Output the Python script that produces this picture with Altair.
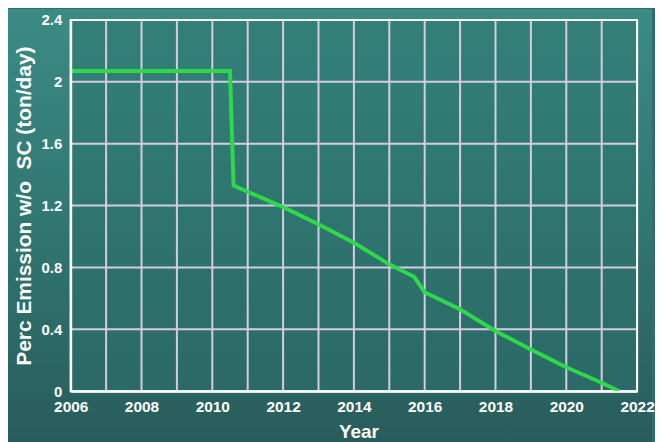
import altair as alt
import pandas as pd

years = [2006, 2010.5, 2010.6, 2012, 2013, 2014, 2015, 2015.7, 2016, 2017, 2018, 2019, 2020, 2021, 2021.5]
emission = [2.07, 2.07, 1.33, 1.19, 1.08, 0.96, 0.82, 0.74, 0.64, 0.53, 0.39, 0.27, 0.155, 0.055, 0.0]

x_ticks = list(range(2006, 2023, 2))
x_grid = list(range(2006, 2023, 1))
y_ticks = [0, 0.4, 0.8, 1.2, 1.6, 2.0, 2.4]

W, H = 569, 373

df = pd.DataFrame({"year": years, "emission": emission})
bg = pd.DataFrame({"k": [0]})

grad_bg = {
    "gradient": "linear", "x1": 0, "y1": 0, "x2": 0, "y2": 1,
    "stops": [{"offset": 0, "color": "#3b8b85"}, {"offset": 0.5, "color": "#317671"}, {"offset": 1, "color": "#285c5a"}],
}
grad_plot = {
    "gradient": "linear", "x1": 0, "y1": 0, "x2": 0, "y2": 1,
    "stops": [{"offset": 0, "color": "#338079"}, {"offset": 1, "color": "#2b6a66"}],
}

background = alt.Chart(bg).mark_rect(fill=grad_bg).encode(
    x=alt.value(-63), x2=alt.value(W + 15), y=alt.value(-11), y2=alt.value(H + 52)
)
plotbg = alt.Chart(bg).mark_rect(fill=grad_plot).encode(
    x=alt.value(0), x2=alt.value(W), y=alt.value(0), y2=alt.value(H)
)

xscale = alt.Scale(domain=[2006, 2022], nice=False, zero=False)
yscale = alt.Scale(domain=[0, 2.4], nice=False)

line = alt.Chart(df).mark_line(color="#2fd84a", strokeWidth=4).encode(
    x=alt.X("year:Q", scale=xscale,
            axis=alt.Axis(values=x_ticks, format="d", title="Year", grid=False, zindex=2,
                          labelColor="white", labelFontSize=15.5, labelFontWeight="bold",
                          labelFont="Liberation Sans", titleFont="Liberation Sans",
                          titleColor="white", titleFontSize=19, titleFontWeight="bold",
                          titleAlign="left", titleAnchor="start", titleX=269, titleY=46,
                          titleBaseline="alphabetic",
                          domainColor="white", domainWidth=2, ticks=False, labelPadding=8,
                          labelFlush=False)),
    y=alt.Y("emission:Q", scale=yscale,
            axis=alt.Axis(values=y_ticks, title="Perc Emission w/o\u00a0 SC (ton/day)", grid=False, zindex=2,
                          labelColor="white", labelFontSize=15, labelFontWeight="bold",
                          labelFont="Liberation Sans", titleFont="Liberation Sans",
                          titleColor="white", titleFontSize=21, titleFontWeight="bold",
                          domainColor="white", domainWidth=2, ticks=False, labelPadding=9,
                          titlePadding=7,
                          labelExpr="datum.value == 2 ? '2' : (datum.value == 0 ? '0' : format(datum.value, '.1f'))",
                          labelFlush=False)),
)

vgrid = alt.Chart(pd.DataFrame({"g": x_grid})).mark_rule(color="#d6cce0", strokeWidth=2).encode(
    x=alt.X("g:Q", scale=xscale)
)
hgrid = alt.Chart(pd.DataFrame({"g": y_ticks})).mark_rule(color="#d6cce0", strokeWidth=2).encode(
    y=alt.Y("g:Q", scale=yscale)
)
border = alt.Chart(bg).mark_rect(fill=None, stroke="white", strokeWidth=2).encode(
    x=alt.value(0), x2=alt.value(W), y=alt.value(0), y2=alt.value(H)
)

chart = alt.layer(background, plotbg, vgrid, hgrid, border, line).properties(
    width=W, height=H, padding=0, background="#2f6f6b"
).configure_view(stroke=None)

chart.save("out.html", embed_options={"renderer": "svg", "actions": False})
